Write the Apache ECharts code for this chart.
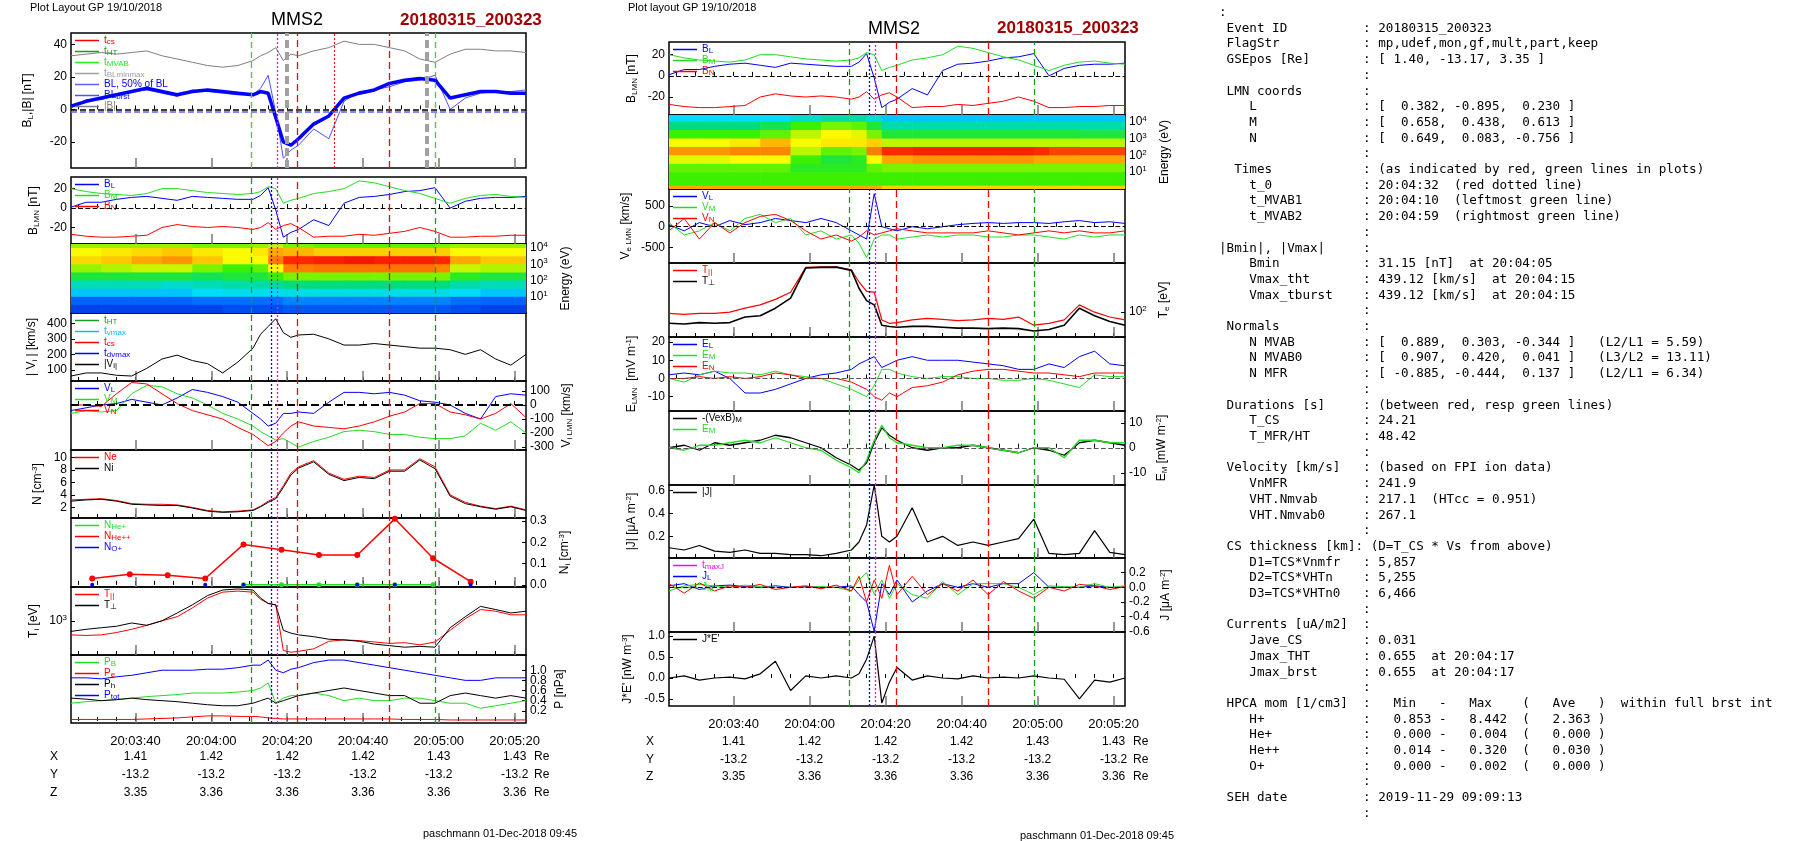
<!DOCTYPE html>
<html><head><meta charset="utf-8">
<script src="https://cdn.jsdelivr.net/npm/echarts@6/dist/echarts.min.js"></script>
<style>
html,body{margin:0;padding:0;background:#fff;}
#chart{position:absolute;left:0;top:0;width:1804px;height:841px;}
#info{position:absolute;left:1219px;top:4px;margin:0;font-family:"DejaVu Sans Mono",monospace;font-size:12.6px;line-height:15.7px;color:#000;white-space:pre;}
</style></head>
<body>
<div id="chart"></div>
<pre id="info">:
 Event ID          : 20180315_200323
 FlagStr           : mp,udef,mon,gf,mult,part,keep
 GSEpos [Re]       : [ 1.40, -13.17, 3.35 ]
                   :
 LMN coords        :
    L              : [  0.382, -0.895,  0.230 ]
    M              : [  0.658,  0.438,  0.613 ]
    N              : [  0.649,  0.083, -0.756 ]
                   :
  Times            : (as indicated by red, green lines in plots)
    t_0            : 20:04:32  (red dotted line)
    t_MVAB1        : 20:04:10  (leftmost green line)
    t_MVAB2        : 20:04:59  (rightmost green line)
                   :
|Bmin|, |Vmax|     :
    Bmin           : 31.15 [nT]  at 20:04:05
    Vmax_tht       : 439.12 [km/s]  at 20:04:15
    Vmax_tburst    : 439.12 [km/s]  at 20:04:15
                   :
 Normals           :
    N MVAB         : [  0.889,  0.303, -0.344 ]   (L2/L1 = 5.59)
    N MVAB0        : [  0.907,  0.420,  0.041 ]   (L3/L2 = 13.11)
    N MFR          : [ -0.885, -0.444,  0.137 ]   (L2/L1 = 6.34)
                   :
 Durations [s]     : (between red, resp green lines)
    T_CS           : 24.21
    T_MFR/HT       : 48.42
                   :
 Velocity [km/s]   : (based on FPI ion data)
    VnMFR          : 241.9
    VHT.Nmvab      : 217.1  (HTcc = 0.951)
    VHT.Nmvab0     : 267.1
                   :
 CS thickness [km]: (D=T_CS * Vs from above)
    D1=TCS*Vnmfr   : 5,857
    D2=TCS*VHTn    : 5,255
    D3=TCS*VHTn0   : 6,466
                   :
 Currents [uA/m2]  :
    Jave_CS        : 0.031
    Jmax_THT       : 0.655  at 20:04:17
    Jmax_brst      : 0.655  at 20:04:17
                   :
 HPCA mom [1/cm3]  :   Min   -   Max    (   Ave   )  within full brst int
    H+             :   0.853 -   8.442  (   2.363 )
    He+            :   0.000 -   0.004  (   0.000 )
    He++           :   0.014 -   0.320  (   0.030 )
    O+             :   0.000 -   0.002  (   0.000 )
                   :
 SEH date          : 2019-11-29 09:09:13
                   :</pre>
<script>
// time in seconds after 20:03:00
var tt = [23,27,31,35,39,43,47,51,55,59,63,67,71,73,75,77,79,81,83,87,91,95,99,103,107,111,115,119,123,127,131,135,139,143];

// event markers
var tHT = [70.5, 119];
var tCS = [82.7, 106.9];
var t0 = [92.5];
var tVmax = [75.8];
var tMaxJ = [77.4];
var tBLminmax = [79.8, 116.8];

// magnetic field
var blSmooth = [2,5,7,9,11,13,11,9,11,12,11,10,9,11,10,-5,-20,-22,-18,-9,-4,7,10,12,16,18,19,18,7,9,11,11,10,10];
var blBrst = [1,6,6,9,11,12,10,8,12,11,10,9,9,13,21,-2,-30,-25,-22,-12,-18,5,11,12,14,17,18,21,0,7,10,11,11,12];
var bTot = [33,34,35,34,35,36,33,31,29,27,26,27,30,33,35,38,30,34,33,36,38,42,40,40,38,36,31,29,34,37,37,36,36,35];
var bM = [20,17,15,14,13,15,20,20,18,16,15,14,15,17,22,20,5,8,10,15,17,20,28,26,22,18,15,10,5,10,13,14,12,11];
var bN = [-27,-29,-30,-30,-29,-28,-20,-17,-19,-20,-19,-20,-22,-20,-15,-22,-18,-16,-20,-30,-29,-29,-27,-28,-26,-24,-20,-24,-30,-30,-29,-29,-28,-28];

// ion moments
var viMag = [60,80,80,65,60,110,170,195,160,140,80,150,240,330,380,430,340,310,325,330,300,260,260,270,260,250,240,240,230,200,230,170,130,200];
var viL = [-40,-20,0,10,40,20,0,50,110,90,60,20,-60,-100,-150,-130,-60,-60,-50,-60,20,90,90,80,90,70,30,20,0,-60,-100,60,80,70];
var viM = [-60,-40,-50,-40,80,140,130,80,50,0,-60,-100,-150,-190,-220,-250,-240,-270,-300,-260,-230,-190,-180,-190,-210,-210,-230,-240,-240,-220,-130,-180,-120,-200];
var viN = [0,0,-10,80,160,150,80,10,-40,-70,-100,-160,-210,-250,-290,-260,-200,-150,-120,-150,-160,-170,-150,-120,-80,-50,10,10,-50,-70,-100,-60,10,-90];
var nE = [3.2,3.3,3.4,3.1,2.6,2.5,2.5,2.4,2.0,1.5,1.3,1.4,1.6,2.2,3.0,3.6,5.5,7.5,8.5,9.5,7.5,6.5,7.0,6.8,8.0,8.0,9.8,8.5,4.0,2.8,2.2,1.8,2.2,1.6];
var nI = [3.0,3.2,3.3,3.0,2.5,2.4,2.3,2.3,1.9,1.4,1.2,1.3,1.5,2.1,2.8,3.4,5.2,7.2,8.3,9.3,7.3,6.3,6.8,6.6,7.8,7.8,9.6,8.2,3.8,2.6,2.1,1.7,2.1,1.5];
var tPerpI = [780,820,850,880,950,900,1000,1200,1450,1800,2050,2100,2050,1700,1500,1450,800,750,720,690,650,640,620,580,560,540,550,540,850,1100,1400,1300,1200,1250];
var tParI = [720,710,720,760,820,900,1000,1100,1350,1700,1950,2000,1950,1650,1500,1450,500,480,490,520,620,640,630,610,590,600,570,610,800,1050,1300,1250,1150,1150];
var pTot = [.85,.85,.83,.87,.9,.95,1.0,1.0,1.0,1.02,1.02,1.05,1.1,1.1,1.2,1.0,.95,1.02,1.05,1.15,1.2,1.2,1.15,1.1,1.05,1.0,.95,.9,.85,.8,.8,.85,.85,.85];
var pB = [.35,.38,.4,.42,.45,.48,.5,.52,.55,.55,.55,.57,.6,.65,.75,.35,.45,.5,.5,.55,.5,.4,.45,.4,.4,.45,.45,.4,.35,.35,.25,.3,.35,.4];
var pH = [.45,.43,.4,.42,.45,.42,.4,.38,.35,.32,.3,.3,.35,.4,.45,.35,.4,.45,.5,.55,.6,.65,.6,.55,.5,.5,.35,.35,.5,.55,.5,.45,.5,.45];
var pE = [.03,.03,.03,.03,.03,.04,.05,.06,.08,.1,.1,.09,.09,.08,.06,.05,.04,.04,.04,.04,.04,.04,.04,.04,.04,.03,.03,.03,.02,.02,.02,.02,.02,.02];

// HPCA densities
var hppT = [28.6,38.5,48.5,58.4,68.5,78.5,88.4,98.5,108.4,118.5,128.4];
var hpp = [0.03,0.05,0.045,0.03,0.19,0.165,0.14,0.14,0.31,0.125,0.015];
var hepT = [68.5,78.5,88.4,98.5,108.4,118.5];
var hep = [0,0.001,0,0,0,0];
var opT = [28.6,58.4,68.5,98.5,108.4,128.4];
var op = [0.001,0.001,0.001,0.001,0.001,0.001];

// electron / field / current data
var veL = [50,-100,100,0,150,50,100,200,150,100,200,100,-100,-200,-300,800,0,-50,-100,0,-50,0,50,80,100,80,100,100,80,120,150,100,120,80];
var veM = [100,-200,-100,100,-100,200,300,100,200,-200,-100,-300,-200,-400,-750,-300,-200,-200,-300,-250,-200,-250,-200,-200,-250,-250,-200,-200,-250,-300,-200,-250,-200,-200];
var veN = [-100,200,-300,100,-150,100,250,300,150,-100,-300,-200,-350,-250,-100,-200,-150,-100,-50,-100,-150,-150,-150,-150,-100,-150,-200,-150,-100,-150,-100,-150,-150,-100];
var tParE = [95,90,95,95,100,120,140,180,250,780,800,800,700,400,260,250,70,60,62,70,75,72,68,70,75,72,80,55,60,70,140,100,80,70];
var tPerpE = [60,58,62,60,62,80,85,120,190,760,780,790,680,300,170,140,55,52,50,52,52,50,48,48,47,48,47,42,45,55,120,85,65,55];
var eL = [2,3,2,4,0,-8,-8,-6,-3,0,2,3,5,8,10,12,6,8,10,12,10,10,10,9,8,7,5,5,8,6,12,15,8,7];
var eM = [0,-2,2,4,3,3,2,4,2,1,0,-3,-6,-8,-10,-4,5,5,3,1,0,1,1,0,0,-1,-1,0,-1,-3,-5,2,1,1];
var eN = [0,0,1,0,1,0,1,3,2,0,0,0,-2,-4,-6,-10,-12,-8,-10,-5,-4,-2,2,4,5,5,4,3,3,2,1,3,3,3];
var vexbM = [0,1,-1,2,1,2,3,5,4,2,0,-4,-7,-9,-6,2,8,5,3,0,-1,0,0,1,0,-1,-2,0,-1,-3,2,3,2,1];
var eMdot = [0,-1,1,1,2,3,2,4,2,0,-1,-5,-8,-10,-5,3,9,4,2,1,0,0,1,1,0,-1,-2,0,0,-4,3,3,2,2];
var jMag = [.1,.08,.12,.07,.06,.08,.05,.05,.04,.04,.03,.05,.08,.15,.3,.65,.2,.15,.2,.45,.15,.2,.12,.15,.12,.15,.18,.35,.05,.04,.05,.25,.06,.04];
var jL = [.02,.05,-.03,.02,.03,.01,0,.02,0,.01,0,0,.02,-.1,-.2,-.6,.05,-.1,.1,-.2,-.05,.05,0,.05,0,.05,.05,.2,0,0,0,.02,0,0];
var jM = [-.05,.02,.04,.02,0,.03,.01,0,0,0,.01,0,-.05,.1,.2,-.1,.1,-.15,.05,-.1,-.15,.08,-.1,.05,.05,.05,0,-.1,.02,.01,0,.05,0,.02];
var jN = [.05,-.08,.06,-.05,.02,0,.04,-.03,0,.02,-.02,.03,-.05,.15,-.2,.1,-.15,.3,-.1,.15,-.1,.05,-.05,.1,-.1,.08,-.05,-.15,0,-.05,.04,.02,-.03,.01];
var jDotE = [0,.05,-.05,0,.02,-.02,.1,.4,-.3,.05,0,.05,0,.1,.45,1.0,-.6,-.1,.25,-.05,.05,0,-.02,.05,0,.02,0,.05,0,-.03,-.5,-.05,-.1,0];

// spectrograms: time edges, log10 energy edges, rows from high to low energy (0..1 colour level)
var specT = [23,31,39,47,55,63,71,75,79,87,95,103,111,119,123,131,143];
var specIonE = [0,0.5,1,1.5,2,2.5,3,3.5,4,4.25];
var specIon = [
 [.62,.62,.62,.62,.6,.6,.62,.65,.6,.58,.58,.58,.58,.6,.62,.62],
 [.7,.72,.74,.76,.72,.7,.72,.8,.78,.75,.75,.75,.75,.75,.7,.7],
 [.74,.76,.8,.82,.76,.7,.7,.85,.95,.96,.97,.96,.96,.95,.8,.76],
 [.62,.64,.66,.66,.6,.55,.58,.7,.85,.86,.86,.86,.86,.84,.66,.64],
 [.5,.5,.5,.5,.48,.5,.5,.55,.6,.6,.6,.6,.6,.6,.52,.5],
 [.38,.38,.38,.36,.38,.4,.4,.42,.45,.45,.45,.45,.45,.45,.4,.38],
 [.28,.28,.28,.28,.3,.32,.32,.32,.33,.33,.33,.33,.33,.33,.3,.28],
 [.18,.18,.18,.18,.2,.2,.2,.2,.22,.22,.22,.22,.22,.22,.2,.18],
 [.12,.12,.12,.12,.12,.14,.14,.14,.16,.16,.16,.16,.16,.16,.14,.12]
];
var specEleE = [0,0.2,1,1.5,2,2.5,3,3.5,4,4.4];
var specEle = [
 [.3,.3,.3,.3,.35,.4,.4,.35,.28,.28,.28,.28,.28,.28,.28,.28],
 [.45,.45,.45,.48,.55,.6,.58,.5,.4,.4,.4,.4,.4,.4,.4,.4],
 [.55,.55,.55,.58,.65,.7,.68,.6,.5,.5,.5,.5,.5,.5,.5,.5],
 [.7,.7,.72,.78,.7,.72,.72,.75,.65,.65,.65,.65,.65,.65,.65,.65],
 [.82,.82,.84,.84,.65,.58,.6,.85,.95,.96,.96,.96,.96,.95,.92,.92],
 [.68,.68,.7,.7,.55,.5,.52,.7,.8,.82,.82,.82,.82,.8,.8,.8],
 [.58,.58,.58,.58,.52,.52,.52,.58,.6,.6,.6,.6,.6,.6,.6,.6],
 [.55,.55,.55,.55,.55,.55,.55,.55,.55,.55,.55,.55,.55,.55,.55,.55],
 [.8,.8,.8,.8,.8,.8,.8,.8,.75,.75,.75,.75,.75,.75,.75,.75]
];

// spacecraft position table
var posTicks = [40,60,80,100,120,140];
var posX = ['1.41','1.42','1.42','1.42','1.43','1.43'];
var posY = ['-13.2','-13.2','-13.2','-13.2','-13.2','-13.2'];
var posZ = ['3.35','3.36','3.36','3.36','3.36','3.36'];

var BLUE='#0000ff', GREEN='#22dd22', RED='#ff0000', GREY='#808080', BLACK='#000000', MAG='#ff00ff';
var FONT='"Liberation Sans", Arial, sans-serif';
var rich = {s:{fontSize:8,verticalAlign:'bottom',padding:[6,0,0,0]}, p:{fontSize:8,verticalAlign:'top',padding:[0,0,6,0]}};

function pad(n){return (n<10?'0':'')+n;}
function fmtTime(v){v=Math.round(v);return '20:'+pad(3+Math.floor(v/60))+':'+pad(v%60);}
var minorTicks=[], majorTicks=[40,60,80,100,120,140];
for (var m=25;m<=140;m+=5) minorTicks.push(m);

var grids=[], xAxes=[], yAxes=[], series=[], legends=[];
var COL = {L:{left:71,width:455}, M:{left:669,width:456}};

function addPanel(col, top, height, y, bottom){
  var i = grids.length, c = COL[col];
  grids.push({left:c.left, top:top, width:c.width, height:height, show:true, borderColor:'#000', borderWidth:1.5, backgroundColor:'transparent', containLabel:false});
  xAxes.push({gridIndex:i, type:'value', position:'bottom', min:23, max:143, axisLine:{show:false}, splitLine:{show:false},
    axisTick:{inside:true, length:4, customValues:minorTicks, lineStyle:{color:'#000'}},
    axisLabel:{show:false}});
  xAxes.push({gridIndex:i, type:'value', position:'bottom', min:23, max:143, axisLine:{show:false}, splitLine:{show:false},
    axisTick:{inside:true, length:10, customValues:majorTicks, lineStyle:{color:'#777',width:1.5}},
    axisLabel:{show:!!bottom, customValues:majorTicks, formatter:fmtTime, fontSize:13, fontFamily:FONT, color:'#000', margin:12}});
  var ya = {gridIndex:i, type:y.log?'log':'value', min:y.min, max:y.max, position:y.pos||'left',
    axisLine:{show:false}, splitLine:{show:false},
    axisTick:{inside:true, length:4, lineStyle:{color:'#000'}},
    axisLabel:{fontSize:12, fontFamily:FONT, color:'#000', margin:4, rich:rich, formatter:y.fmt},
    name:y.name, nameLocation:'middle', nameGap:y.gap||34, nameRotate:90,
    nameTextStyle:{fontSize:12, fontFamily:FONT, color:'#000', rich:rich}};
  if (y.ticks){ ya.axisLabel.customValues=y.ticks; ya.axisTick.customValues=y.ticks; }
  if (y.log) ya.logBase=10;
  yAxes.push(ya);
  return i;
}
function line(i, name, xs, ys, color, width, extra){
  var s = {type:'line', name:name, xAxisIndex:2*i, yAxisIndex:i, symbol:'none', animation:false,
    data:xs.map(function(t,k){return [t, ys[k]];}),
    lineStyle:{color:color, width:width||1}, itemStyle:{color:color}};
  if (extra) for (var k in extra) s[k]=extra[k];
  series.push(s);
}
function hline(i, val, color, type, width){
  series.push({type:'line', xAxisIndex:2*i, yAxisIndex:i, data:[], silent:true, animation:false,
    markLine:{silent:true, symbol:'none', animation:false, label:{show:false},
      lineStyle:{color:color, type:type||'dashed', width:width||1.2}, data:[{yAxis:val}]}});
}
function vmark(i, name, times, color, type, width){
  series.push({type:'line', name:name, xAxisIndex:2*i, yAxisIndex:i, data:[], symbol:'none', animation:false,
    lineStyle:{color:color, type:type, width:width}, itemStyle:{color:color},
    markLine:{silent:true, symbol:'none', animation:false, label:{show:false},
      lineStyle:{color:color, type:type, width:width}, data:times.map(function(t){return {xAxis:t};})}});
}
function stdMarks(i, names){
  names = names || {};
  vmark(i, names.ht||' ht'+i, tHT, '#1a9e1a', [6,4], 1.3);
  vmark(i, names.cs||' cs'+i, tCS, RED, [7,4], 1.3);
  vmark(i, names.vmax||' vm'+i, tVmax, BLUE, [2,2], 1.3);
  vmark(i, ' mj'+i, tMaxJ, MAG, [2,2], 1.3);
}
function legend(i, items){
  var g = grids[i];
  legends.push({left:g.left+4, top:g.top+2, orient:'vertical', itemGap:0, padding:0, itemWidth:24, itemHeight:1.5, icon:'rect',
    textStyle:{fontSize:10, fontFamily:FONT, rich:rich, lineHeight:11}, selectedMode:false,
    formatter:function(n){return n.replace(/_(\S+)/,'{s|$1}');},
    data:items.map(function(it){return {name:it[0], textStyle:{color:it[1], rich:rich}};})});
}
function jet(v){
  var st=[[0,[0,0,200]],[0.2,[0,110,255]],[0.3,[0,220,255]],[0.45,[0,220,120]],[0.55,[60,240,0]],[0.7,[250,250,0]],[0.82,[255,150,0]],[0.95,[255,40,0]],[1,[230,0,0]]];
  for (var k=1;k<st.length;k++){ if (v<=st[k][0]){ var a=st[k-1],b=st[k],f=(v-a[0])/(b[0]-a[0]);
    return 'rgb('+[0,1,2].map(function(j){return Math.round(a[1][j]+f*(b[1][j]-a[1][j]));}).join(',')+')'; } }
  return 'rgb(230,0,0)';
}
function spectro(i, tEdges, eEdges, rows){
  var data=[], n=rows.length;
  rows.forEach(function(r, ri){
    var e1=eEdges[n-ri], e0=eEdges[n-ri-1];
    r.forEach(function(c, ci){ data.push([tEdges[ci], tEdges[ci+1], e0, e1, c]); });
  });
  series.push({type:'custom', xAxisIndex:2*i, yAxisIndex:i, animation:false, silent:true, clip:true,
    encode:{x:[0,1], y:[2,3]}, data:data,
    renderItem:function(p, api){
      var a=api.coord([api.value(0), api.value(3)]), b=api.coord([api.value(1), api.value(2)]);
      return {type:'rect', shape:{x:a[0], y:a[1], width:b[0]-a[0]+0.6, height:b[1]-a[1]+0.6}, style:{fill:jet(api.value(4))}};
    }});
}
var pow10 = function(v){return '10{p|'+Math.round(v)+'}';};
var fix1 = function(v){return v.toFixed(1);};

// ---------- left column ----------
var p = addPanel('L', 33, 135, {min:-36, max:47, ticks:[-20,0,20,40], name:'B{s|L},|B| [nT]', gap:36});
hline(p, 0, '#000', 'dashed', 1.5); hline(p, -1.5, '#6060ff', 'dashed', 1.5);
vmark(p, 't_cs', tCS, RED, [7,4], 1.3);
vmark(p, 't_HT', tHT, '#1a9e1a', [6,4], 1.3);
vmark(p, 't_MVAB', tHT, '#22ee22', [6,4], 1);
vmark(p, 't_BLminmax', tBLminmax, '#a0a0a0', [8,4], 4);
vmark(p, ' t0', t0, RED, [2,2], 1);
vmark(p, ' mjL', tMaxJ, MAG, [2,2], 1.3);
series.push({type:'line', name:'BL, 50% of BL', xAxisIndex:2*p, yAxisIndex:p, data:[], symbol:'none', lineStyle:{color:'#6060ff', type:'dashed'}, itemStyle:{color:'#6060ff'}});
line(p, '|B|', tt, bTot, GREY, 1);
line(p, 'BL_brst', tt, blBrst, '#5050ff', 1);
line(p, ' blsmooth', tt, blSmooth, BLUE, 3.5);
legend(p, [['t_cs',RED],['t_HT','#1a9e1a'],['t_MVAB','#22ee22'],['t_BLminmax','#a0a0a0'],['BL, 50% of BL',BLUE],['BL_brst',BLUE],['|B|',GREY]]);

p = addPanel('L', 177, 67, {min:-37, max:32, ticks:[-20,0,20], name:'B{s|LMN} [nT]', gap:30});
hline(p, 0, '#000', 'dashed', 1.2); stdMarks(p);
line(p, 'B_L', tt, blBrst, BLUE); line(p, 'B_M', tt, bM, GREEN); line(p, 'B_N', tt, bN, RED);
legend(p, [['B_L',BLUE],['B_M',GREEN],['B_N',RED]]);

p = addPanel('L', 244, 69, {min:0, max:4.25, ticks:[1,2,3,4], pos:'right', fmt:pow10, name:'Energy (eV)', gap:34});
spectro(p, specT, specIonE, specIon); stdMarks(p);

p = addPanel('L', 313, 68, {min:28, max:467, ticks:[100,200,300,400], name:'| V{s|i} | [km/s]', gap:32});
stdMarks(p, {ht:'t_HT', cs:'t_cs', vmax:'t_dvmax'});
series.push({type:'line', name:'t_vmax', xAxisIndex:2*p, yAxisIndex:p, data:[], symbol:'none', lineStyle:{color:'#00c0ff', type:[2,2]}, itemStyle:{color:'#00c0ff'}});
line(p, '|V_i|', tt, viMag, BLACK);
legend(p, [['t_HT','#1a9e1a'],['t_vmax','#00c0ff'],['t_cs',RED],['t_dvmax',BLUE],['|V_i|',BLACK]]);

p = addPanel('L', 381, 69, {min:-321, max:171, ticks:[-300,-200,-100,0,100], pos:'right', name:'V{s|i LMN} [km/s]', gap:34});
hline(p, 0, '#000', 'dashed', 2); stdMarks(p);
line(p, 'V_L', tt, viL, BLUE); line(p, 'V_M', tt, viM, GREEN); line(p, 'V_N', tt, viN, RED);
legend(p, [['V_L',BLUE],['V_M',GREEN],['V_N',RED]]);

p = addPanel('L', 450, 68, {min:0.3, max:11.2, ticks:[2,4,6,8,10], name:'N [cm{p|-3}]', gap:26});
stdMarks(p);
line(p, 'Ne', tt, nE, RED); line(p, 'Ni', tt, nI, BLACK);
legend(p, [['Ne',RED],['Ni',BLACK]]);

p = addPanel('L', 518, 69, {min:-0.01, max:0.314, ticks:[0,0.1,0.2,0.3], pos:'right', fmt:fix1, name:'N{s|i} [cm{p|-3}]', gap:32});
stdMarks(p);
line(p, 'N_He+', hepT, hep, GREEN, 1.5, {symbol:'circle', symbolSize:5});
line(p, 'N_He++', hppT, hpp, RED, 1.5, {symbol:'circle', symbolSize:6});
line(p, 'N_O+', opT, op, BLUE, 0.5, {symbol:'circle', symbolSize:4, lineStyle:{width:0, color:BLUE}});
legend(p, [['N_He+',GREEN],['N_He++',RED],['N_O+',BLUE]]);

p = addPanel('L', 587, 68, {log:true, min:450, max:2200, fmt:function(v){return v===1000?'10{p|3}':'';}, name:'T{s|i} [eV]', gap:30});
stdMarks(p);
line(p, 'T_||', tt, tParI, RED); line(p, 'T_⊥', tt, tPerpI, BLACK);
legend(p, [['T_||',RED],['T_⊥',BLACK]]);

p = addPanel('L', 655, 68, {min:-0.04, max:1.3, ticks:[0,0.2,0.4,0.6,0.8,1.0,1.2], pos:'right', fmt:fix1, name:'P [nPa]', gap:28}, true);
stdMarks(p);
line(p, 'P_B', tt, pB, GREEN); line(p, 'P_e', tt, pE, RED); line(p, 'P_h', tt, pH, BLACK); line(p, 'P_tot', tt, pTot, BLUE);
legend(p, [['P_B',GREEN],['P_e',RED],['P_h',BLACK],['P_tot',BLUE]]);

// ---------- middle column ----------
p = addPanel('M', 42, 73, {min:-37, max:32, ticks:[-20,0,20], name:'B{s|LMN} [nT]', gap:30});
hline(p, 0, '#000', 'dashed', 1.2); stdMarks(p);
line(p, 'B_L', tt, blBrst, BLUE); line(p, 'B_M', tt, bM, GREEN); line(p, 'B_N', tt, bN, RED);
legend(p, [['B_L',BLUE],['B_M',GREEN],['B_N',RED]]);

p = addPanel('M', 115, 74, {min:0, max:4.4, ticks:[1,2,3,4], pos:'right', fmt:pow10, name:'Energy (eV)', gap:34});
spectro(p, specT, specEleE, specEle);

p = addPanel('M', 189, 74, {min:-880, max:915, ticks:[-500,0,500], name:'V{s|e LMN} [km/s]', gap:36});
hline(p, 0, '#000', 'dashed', 1.2); stdMarks(p);
line(p, 'V_L', tt, veL, BLUE); line(p, 'V_M', tt, veM, GREEN); line(p, 'V_N', tt, veN, RED);
legend(p, [['V_L',BLUE],['V_M',GREEN],['V_N',RED]]);

p = addPanel('M', 263, 74, {log:true, min:32, max:955, pos:'right', fmt:function(v){return v===100?'10{p|2}':'';}, name:'T{s|e} [eV]', gap:32});
stdMarks(p);
line(p, 'T_||', tt, tParE, RED, 1.2); line(p, 'T_⊥', tt, tPerpE, BLACK, 1.6);
legend(p, [['T_||',RED],['T_⊥',BLACK]]);

p = addPanel('M', 337, 74, {min:-17.9, max:22.8, ticks:[-10,0,10,20], name:'E{s|LMN}  [mV m{p|-1}]', gap:30});
hline(p, 0, '#555', 'dashed', 1.2); stdMarks(p);
line(p, 'E_L', tt, eL, BLUE); line(p, 'E_M', tt, eM, GREEN); line(p, 'E_N', tt, eN, RED);
legend(p, [['E_L',BLUE],['E_M',GREEN],['E_N',RED]]);

p = addPanel('M', 411, 74, {min:-14.9, max:14.7, ticks:[-10,0,10], pos:'right', name:'E{s|M} [mW m{p|-2}]', gap:30});
hline(p, 0, '#555', 'dashed', 1.2); stdMarks(p);
line(p, '-(VexB)_M', tt, vexbM, BLACK, 1.3); line(p, 'E_M ', tt, eMdot, GREEN, 1.3);
legend(p, [['-(VexB)_M',BLACK],['E_M ',GREEN]]);

p = addPanel('M', 485, 73, {min:0.01, max:0.65, ticks:[0.2,0.4,0.6], fmt:fix1, name:'|J| [μA m{p|-2}]', gap:30});
stdMarks(p);
line(p, '|J|', tt, jMag, BLACK, 1.2);
legend(p, [['|J|',BLACK]]);

p = addPanel('M', 558, 74, {min:-0.61, max:0.4, ticks:[-0.6,-0.4,-0.2,0,0.2], pos:'right', fmt:fix1, name:'J [μA m{p|-2}]', gap:34});
hline(p, 0, '#000', 'dashed', 1.2); stdMarks(p);
series.push({type:'line', name:'t_maxJ', xAxisIndex:2*p, yAxisIndex:p, data:[], symbol:'none', lineStyle:{color:MAG, type:[2,2]}, itemStyle:{color:MAG}});
line(p, 'J_L', tt, jL, BLUE); line(p, 'J_M', tt, jM, GREEN); line(p, 'J_N', tt, jN, RED);
legend(p, [['t_maxJ',MAG],['J_L',BLUE],['J_M',GREEN]]);

p = addPanel('M', 632, 74, {min:-0.67, max:1.1, ticks:[-0.5,0,0.5,1.0], fmt:fix1, name:"J*E' [nW m{p|-3}]", gap:34}, true);
stdMarks(p);
line(p, "J*E'", tt, jDotE, BLACK, 1.2);
legend(p, [["J*E'",BLACK]]);

// ---------- texts ----------
var graphic = [];
function txt(x, y, s, o){
  o=o||{};
  graphic.push({type:'text', x:x, y:y, silent:true, style:{text:s, fill:o.color||'#000', font:(o.weight||'normal')+' '+(o.size||11)+'px '+FONT, textAlign:o.align||'left', textVerticalAlign:'middle'}});
}
txt(30, 8, 'Plot Layout GP 19/10/2018');
txt(297, 20, 'MMS2', {size:18, align:'center'});
txt(400, 20, '20180315_200323', {size:17, weight:'bold', color:'#a00000'});
txt(628, 8, 'Plot layout GP 19/10/2018');
txt(894, 29, 'MMS2', {size:18, align:'center'});
txt(997, 28, '20180315_200323', {size:17, weight:'bold', color:'#a00000'});
txt(423, 834, 'paschmann 01-Dec-2018 09:45');
txt(1020, 836, 'paschmann 01-Dec-2018 09:45');
function posTable(col, y0, dy, labelX){
  var c = COL[col];
  [['X',posX],['Y',posY],['Z',posZ]].forEach(function(r, k){
    var y = y0 + k*dy;
    txt(labelX, y, r[0], {size:12});
    posTicks.forEach(function(t, j){ txt(c.left + (t-23)/120*c.width, y, r[1][j], {size:12, align:'center'}); });
    txt(c.left + c.width + 8, y, 'Re', {size:12});
  });
}
posTable('L', 757, 18, 50);
posTable('M', 742, 17.5, 646);

var chart = echarts.init(document.getElementById('chart'), null, {renderer:'canvas'});
chart.setOption({animation:false, backgroundColor:'#fff', grid:grids, xAxis:xAxes, yAxis:yAxes, series:series, legend:legends, graphic:graphic});
</script>
</body></html>
